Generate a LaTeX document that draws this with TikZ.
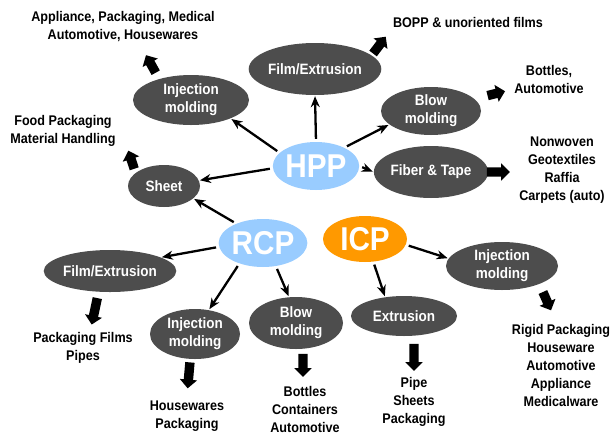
\documentclass[tikz,border=0pt]{standalone}
\usepackage{fontspec}
\setmainfont{Liberation Sans}[FakeStretch=0.9]
\usepackage{xcolor}
\usetikzlibrary{arrows.meta, shapes.geometric, shapes.arrows}
\definecolor{procgray}{HTML}{4D4D4D}
\definecolor{pplblue}{HTML}{99CCFF}
\definecolor{pplorange}{HTML}{FF9900}

\begin{document}
\begin{tikzpicture}[
        x=1pt, y=-1pt,
        proc/.style={ellipse, fill=procgray, text=white, inner sep=0pt, align=center, font=\fontsize{15}{18}\selectfont\bfseries},
        grade/.style={ellipse, text=white, inner sep=0pt, minimum width=84pt, minimum height=48pt, font=\fontsize{33}{33}\selectfont\bfseries},
        use/.style={align=center, inner sep=0pt, font=\fontsize{14}{18}\selectfont\bfseries},
        link/.style={-{Stealth[length=11pt,width=9pt]}, line width=2.3pt, shorten <=3pt, shorten >=1pt},
        fat/.style={single arrow, fill=black, inner xsep=0pt, inner ysep=4.5pt, single arrow head extend=4pt}
    ]
        \useasboundingbox (0,0) rectangle (612,434);

        % Grades
        \node[grade, fill=pplblue] (hpp) at (316,166) {HPP};
        \node[grade, fill=pplblue, minimum width=80pt] (rcp) at (263,243) {RCP};
        \node[grade, fill=pplorange, minimum height=46pt] (icp) at (365,239) {ICP};

        % HPP processes
        \node[proc, minimum width=110pt, minimum height=52pt] (hppfilm) at (315,69) {Film/Extrusion};
        \node[proc, minimum width=116pt, minimum height=50pt] (hppinj) at (191,100) {Injection\\molding};
        \node[proc, minimum width=72pt, minimum height=42pt] (hppsheet) at (164,186) {Sheet};
        \node[proc, minimum width=100pt, minimum height=48pt] (hppblow) at (431,111) {Blow\\molding};
        \node[proc, minimum width=102pt, minimum height=52pt] (hppfiber) at (431,172) {Fiber \& Tape};

        % RCP processes
        \node[proc, minimum width=116pt, minimum height=42pt] (rcpfilm) at (110,271) {Film/Extrusion};
        \node[proc, minimum width=90pt, minimum height=50pt] (rcpinj) at (195,334) {Injection\\molding};
        \node[proc, minimum width=94pt, minimum height=52pt] (rcpblow) at (296,323) {Blow\\molding};

        % ICP processes
        \node[proc, minimum width=106pt, minimum height=40pt] (icpext) at (404,316) {Extrusion};
        \node[proc, minimum width=112pt, minimum height=48pt] (icpinj) at (502,266) {Injection\\molding};

        % Applications
        \node[use] (usehppinj) at (123,27) {Appliance, Packaging, Medical\\Automotive, Housewares};
        \node[use] (usehppsheet) at (63,131) {Food Packaging\\Material Handling};
        \node[use] (usehppfilm) at (468,22) {BOPP \& unoriented films};
        \node[use] (usehppblow) at (549,79) {Bottles,\\Automotive};
        \node[use] (usehppfiber) at (562,170) {Nonwoven\\Geotextiles\\Raffia\\Carpets (auto)};
        \node[use] (usercpfilm) at (83,348) {Packaging Films\\Pipes};
        \node[use] (usercpinj) at (187,416) {Housewares\\Packaging};
        \node[use] (usercpblow) at (305,409) {Bottles\\Containers\\Automotive};
        \node[use] (useicpext) at (414,402) {Pipe\\Sheets\\Packaging};
        \node[use] (useicpinj) at (561,365) {Rigid Packaging\\Houseware\\Automotive\\Appliance\\Medicalware};

        % Arrows from grades
        \draw[link] (hpp.90) -- (hppfilm.-90);
        \draw[link] (hpp.160) -- (hppinj.-25);
        \draw[link] (hpp.183) -- (hppsheet.9);
        \draw[link] (hpp.33) -- (hppblow.198);
        \draw[link] (hpp.0) -- (hppfiber.180);
        \draw[link] (rcp.144) -- (hppsheet.-23);
        \draw[link] (rcp.185) -- (rcpfilm.15);
        \draw[link] (rcp.-139) -- (rcpinj.60);
        \draw[link] (rcp.-61) -- (rcpblow.105);
        \draw[link] (icp.-8) -- (icpinj.172);
        \draw[link] (icp.-70) -- (icpext.135);

        % Block arrows to applications
        \node[fat, minimum height=20pt, rotate=119] (fathppinj) at (152,66) {};
        \node[fat, minimum height=19pt, rotate=108] (fathppsheet) at (132,162) {};
        \node[fat, minimum height=21pt, rotate=53] (fathppfilm) at (378,47) {};
        \node[fat, minimum height=18pt, rotate=14] (fathppblow) at (494,94) {};
        \node[fat, minimum height=23pt, rotate=0] (fathppfiber) at (496,172) {};
        \node[fat, minimum height=27pt, rotate=-102] (fatrcpfilm) at (95,309) {};
        \node[fat, minimum height=26pt, rotate=-95] (fatrcpinj) at (189,373) {};
        \node[fat, minimum height=23pt, rotate=-90] (fatrcpblow) at (303,363) {};
        \node[fat, minimum height=27pt, rotate=-90] (faticpext) at (414,355) {};
        \node[fat, minimum height=20pt, rotate=-66] (faticpinj) at (546,299) {};
    \end{tikzpicture}
\end{document}
